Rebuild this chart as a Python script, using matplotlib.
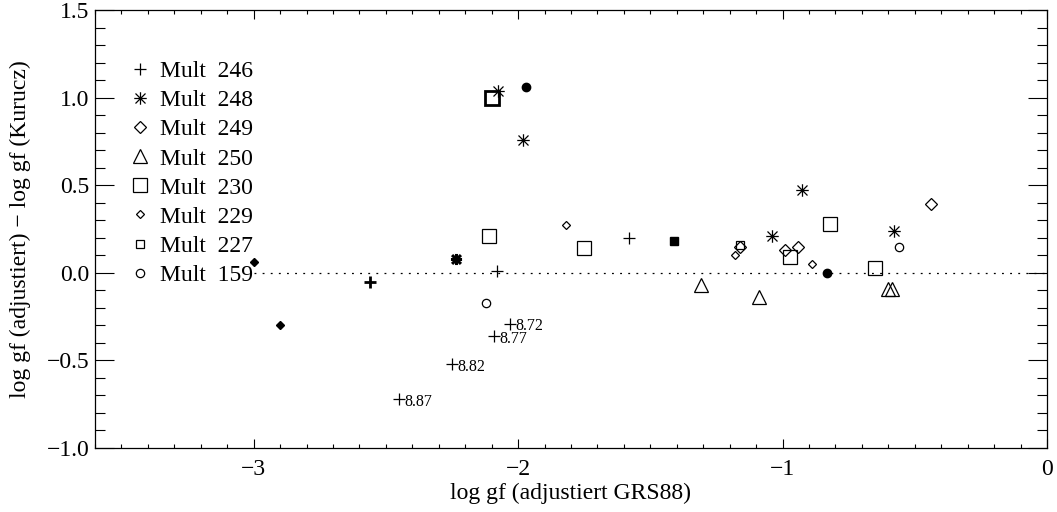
# log gf comparison: adjusted vs. Kurucz, grouped by multiplet
import numpy as np
import matplotlib
matplotlib.use("Agg")
import matplotlib.pyplot as plt
from matplotlib.ticker import MultipleLocator
from matplotlib.path import Path

# multiplet data (x = log gf adjusted GRS88, y = difference to Kurucz)
m246_x = [-1.58, -2.08, -2.03, -2.09, -2.25, -2.45]
m246_y = [0.20, 0.01, -0.29, -0.36, -0.52, -0.72]
m246_lab = ["", "", "8.72", "8.77", "8.82", "8.87"]

m248_x = [-2.075, -1.98, -1.04, -0.925, -0.58]
m248_y = [1.04, 0.76, 0.21, 0.47, 0.24]

m249_x = [-1.16, -0.99, -0.94, -0.44]
m249_y = [0.15, 0.13, 0.15, 0.39]

m250_x = [-1.31, -1.09, -0.60, -0.585]
m250_y = [-0.07, -0.14, -0.09, -0.09]

m230_x = [-2.11, -1.75, -0.97, -0.82, -0.65]
m230_y = [0.21, 0.14, 0.09, 0.28, 0.03]

m229_x = [-1.82, -1.18, -0.89]
m229_y = [0.27, 0.10, 0.05]

m227_x = [-1.16]
m227_y = [0.16]

m159_x = [-2.12, -0.56]
m159_y = [-0.17, 0.15]

# highlighted points (bold / filled symbols)
bold_plus_x, bold_plus_y = [-2.56], [-0.05]
bold_ast_x, bold_ast_y = [-2.235], [0.08]
bold_sq_x, bold_sq_y = [-2.10], [1.00]
fill_dia_x, fill_dia_y = [-3.00, -2.90], [0.06, -0.30]
fill_circ_x, fill_circ_y = [-1.97, -0.83], [1.06, 0.00]
fill_sq_x, fill_sq_y = [-1.41], [0.18]

plt.rcParams["font.family"] = ["Liberation Serif", "DejaVu Serif"]
plt.rcParams["font.size"] = 17

fig = plt.figure(figsize=(10.57, 5.12), dpi=100)
ax = fig.add_axes([0.0899, 0.125, 0.9006, 0.8555])

# IDL style asterisk: vertical bar, horizontal bar and an X
asterisk = Path([(0, -1), (0, 1), (-1, 0), (1, 0), (-0.8, -0.8), (0.8, 0.8),
                 (-0.8, 0.8), (0.8, -0.8)],
                [Path.MOVETO, Path.LINETO] * 4)
kw = dict(linestyle="none", color="black", mfc="none", mec="black", mew=0.9)

ax.plot(m246_x, m246_y, marker="+", ms=8.5, label="Mult  246", **kw)
ax.plot(m248_x, m248_y, marker=asterisk, ms=9, label="Mult  248", **kw)
ax.plot(m249_x, m249_y, marker="D", ms=6.5, label="Mult  249", **kw)
ax.plot(m250_x, m250_y, marker="^", ms=9.5, label="Mult  250", **kw)
ax.plot(m230_x, m230_y, marker="s", ms=9.5, label="Mult  230", **kw)
ax.plot(m229_x, m229_y, marker="D", ms=3.6, label="Mult  229", **kw)
ax.plot(m227_x, m227_y, marker="s", ms=6, label="Mult  227", **kw)
ax.plot(m159_x, m159_y, marker="o", ms=6, label="Mult  159", **kw)

ax.plot(bold_plus_x, bold_plus_y, ls="none", marker="+", ms=9, mew=2, color="black")
ax.plot(bold_ast_x, bold_ast_y, ls="none", marker=asterisk, ms=8, mew=2.2, color="black")
ax.plot(bold_sq_x, bold_sq_y, ls="none", marker="s", ms=10, mew=2, mfc="none", mec="black")
ax.plot(fill_dia_x, fill_dia_y, ls="none", marker="D", ms=3.8, color="black")
ax.plot(fill_circ_x, fill_circ_y, ls="none", marker="o", ms=6, color="black")
ax.plot(fill_sq_x, fill_sq_y, ls="none", marker="s", ms=5.5, color="black")

for x, y, t in zip(m246_x, m246_y, m246_lab):
    if t:
        ax.annotate(t, (x, y), xytext=(4, -2), textcoords="offset points",
                    ha="left", va="center", fontsize=11.5)

ax.plot([-3.0, 0.0], [0, 0], color="black", lw=0.9, ls=(0, (1.5, 5)))

ax.set_xlim(-3.6, 0)
ax.set_ylim(-1.0, 1.5)
ax.xaxis.set_major_locator(MultipleLocator(1))
ax.xaxis.set_minor_locator(MultipleLocator(0.1))
ax.yaxis.set_major_locator(MultipleLocator(0.5))
ax.yaxis.set_minor_locator(MultipleLocator(0.1))
ax.set_xticks([-3, -2, -1, 0])
ax.set_xticklabels(["\u22123", "\u22122", "\u22121", "0"])
ax.yaxis.set_major_formatter(plt.FuncFormatter(lambda v, p: f"{v:.1f}".replace("-", "\u2212")))

ax.tick_params(axis="x", which="major", direction="in", length=6.5, width=0.8,
               top=True, pad=8)
ax.tick_params(axis="x", which="minor", direction="in", length=3.2, width=0.8, top=True)
ax.tick_params(axis="y", which="major", direction="in", length=14, width=0.8,
               right=True, pad=4)
ax.tick_params(axis="y", which="minor", direction="in", length=7, width=0.8, right=True)
for s in ax.spines.values():
    s.set_linewidth(0.9)

ax.set_xlabel("log gf (adjustiert GRS88)", labelpad=2)
ax.set_ylabel("log gf (adjustiert) \u2212 log gf (Kurucz)", labelpad=11)

ax.legend(loc="upper left", bbox_to_anchor=(0.035, 0.884), frameon=False,
          handlelength=1.0, handletextpad=0.35, labelspacing=0.32,
          borderpad=0, borderaxespad=0, fontsize=17)

fig.savefig("out.png", dpi=100)
